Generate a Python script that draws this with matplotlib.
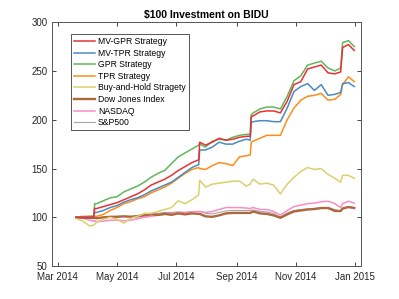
import matplotlib
matplotlib.use("Agg")
import matplotlib.pyplot as plt
import numpy as np
import pandas as pd

plt.rcParams['font.family'] = ['Liberation Sans', 'DejaVu Sans']

dates = pd.to_datetime([
    "2014-03-20", "2014-03-27", "2014-04-03", "2014-04-07", "2014-04-08", "2014-04-10",
    "2014-04-17", "2014-04-24", "2014-05-01", "2014-05-08", "2014-05-15", "2014-05-22",
    "2014-05-29", "2014-06-05", "2014-06-12", "2014-06-19", "2014-06-26", "2014-07-03",
    "2014-07-10", "2014-07-17", "2014-07-24", "2014-07-25", "2014-07-31", "2014-08-07",
    "2014-08-14", "2014-08-21", "2014-08-28", "2014-09-04", "2014-09-11", "2014-09-15",
    "2014-09-16", "2014-09-18", "2014-09-25", "2014-10-02", "2014-10-09", "2014-10-16",
    "2014-10-23", "2014-10-30", "2014-11-06", "2014-11-13", "2014-11-20", "2014-11-27",
    "2014-12-04", "2014-12-11", "2014-12-17", "2014-12-19", "2014-12-25", "2014-12-31"])

mv_gpr = [100, 100, 100, 100, 109, 109, 111, 113, 115, 118, 121, 124,
          128, 133, 136, 139, 143, 148, 152, 156, 159, 177, 174, 177,
          181, 179, 180, 182, 183, 183, 203, 204, 208, 209, 209, 207,
          219, 236, 239, 252, 254, 256, 248, 247, 249, 274, 277, 271]
mv_tpr = [100, 100, 100, 100, 105, 105, 107, 110, 112, 115.5, 118, 120,
          123, 127, 130, 133, 136, 141, 146, 151, 154, 169, 169, 172,
          177, 175, 175, 178, 180, 179, 197, 198, 199, 199, 198, 198,
          212, 229, 234, 237, 230, 236, 225, 226, 228, 237, 238, 234]
gpr = [100, 100, 101, 101, 114, 114, 117, 120, 121, 126, 129, 132,
       136, 141, 145, 148, 155, 162, 166, 170, 174, 175, 172, 178,
       180, 179, 182, 184, 185, 185, 205, 207, 211, 213, 213, 211,
       224, 240, 245, 256, 258, 260, 253, 250, 253, 279, 281, 275]
tpr = [100, 101, 101, 101, 101, 101, 103, 107, 110, 114, 116, 119,
       121, 125, 128, 131, 135, 140, 145, 149, 151, 150, 149, 153,
       156, 155, 153, 162, 163, 164, 177, 178, 181, 184, 184, 184,
       200, 212, 220, 224, 225, 227, 220, 221, 226, 236, 244, 239]
buy_hold = [99, 96, 91, 92, 93, 95, 98, 100, 98, 94, 99, 101,
            104, 104, 106, 108, 110, 117, 114, 118, 123, 138, 131, 134,
            135, 136, 137, 137, 132, 134, 136, 139, 134, 135, 133, 124,
            134, 141, 147, 151, 149, 150, 144, 140, 136, 143, 143, 140]
dow = [100, 99.5, 99.5, 99.3, 99.5, 99, 100, 100.5, 100.5, 101, 100.5, 101,
       102, 103, 102.5, 103.5, 102.5, 104, 103, 104, 103.5, 103.5, 101, 100.5,
       102, 104, 104.5, 104.5, 104.5, 104.5, 105, 106, 104, 103.5, 102, 99.5,
       103, 106, 107, 108, 108.5, 109.5, 109.5, 106.5, 106.5, 109, 110.5, 109.5]
nasdaq = [100, 99, 97, 96, 96.5, 95.5, 96, 97, 97, 96.5, 97, 98.5,
          100, 101, 102, 103, 104, 105, 105, 105.5, 106, 106, 105, 106,
          108, 110, 110, 110, 109.5, 109, 109.5, 110, 108, 108, 106, 102.5,
          107, 111, 112.5, 114, 114.5, 116, 116.5, 114, 110, 114, 116.5, 114.5]
sp500 = [100, 100, 99.5, 99.2, 99.5, 99, 100, 100.5, 101, 101, 101, 102,
         103, 104, 104, 105, 105, 105.5, 105, 106, 106, 106, 104, 103.5,
         105, 106.5, 107, 107, 107, 107, 107.3, 107.5, 106, 105.5, 104, 100.5,
         104.5, 107, 108, 108.5, 109, 110, 110, 108, 106, 109, 111, 110]

labels = ["MV-GPR Strategy", "MV-TPR Strategy", "GPR Strategy", "TPR Strategy",
          "Buy-and-Hold Stragety", "Dow Jones Index", "NASDAQ", "S&P500"]
series = [mv_gpr, mv_tpr, gpr, tpr, buy_hold, dow, nasdaq, sp500]
colors = ["#E73133", "#4B8BBF", "#5FB75C", "#FF8C1A", "#DDCF6E", "#AF673D", "#F88EC5", "#A5A5A5"]
widths = [1.1, 1.1, 1.1, 1.1, 1.1, 1.7, 1.1, 0.8]

title = "$100 Investment on BIDU"
yticks = [50, 100, 150, 200, 250, 300]
xtick_dates = pd.to_datetime(["2014-03-01", "2014-05-01", "2014-07-01", "2014-09-01",
                              "2014-11-01", "2015-01-01"])
xtick_labels = ["Mar 2014", "May 2014", "Jul 2014", "Sep 2014", "Nov 2014", "Jan 2015"]

fig = plt.figure(figsize=(3.99, 2.99), dpi=100)
ax = fig.add_axes([0.130, 0.110, 0.775, 0.816])

# draw in reverse so the first series sits on top
for vals, lab, c, w in list(zip(series, labels, colors, widths))[::-1]:
    ax.plot(dates, vals, color=c, lw=w, label=lab)

ax.set_xlim(pd.Timestamp("2014-02-23"), pd.Timestamp("2015-01-07"))
ax.set_ylim(50, 300)
ax.set_yticks(yticks)
ax.set_xticks(xtick_dates)
ax.set_xticklabels(xtick_labels)
ax.tick_params(direction='in', length=3, width=0.6, labelsize=7, colors='#262626',
               top=True, right=True)
ax.tick_params(axis='x', pad=4)
ax.tick_params(axis='y', pad=3)
for sp in ax.spines.values():
    sp.set_color('#555555')
    sp.set_linewidth(0.7)
ax.set_title(title, fontsize=7.5, fontweight='bold', pad=3)

handles, labs = ax.get_legend_handles_labels()
order = [labs.index(l) for l in labels]
leg = ax.legend([handles[i] for i in order], [labs[i] for i in order],
                loc='upper left', bbox_to_anchor=(0.0615, 0.951), borderaxespad=0,
                fontsize=6.2, labelspacing=0.3, handlelength=2.5, handletextpad=0.3,
                borderpad=0.35, fancybox=False, framealpha=1)
leg.get_frame().set_edgecolor('#555555')
leg.get_frame().set_linewidth(0.7)

fig.savefig("out.png", dpi=100)
